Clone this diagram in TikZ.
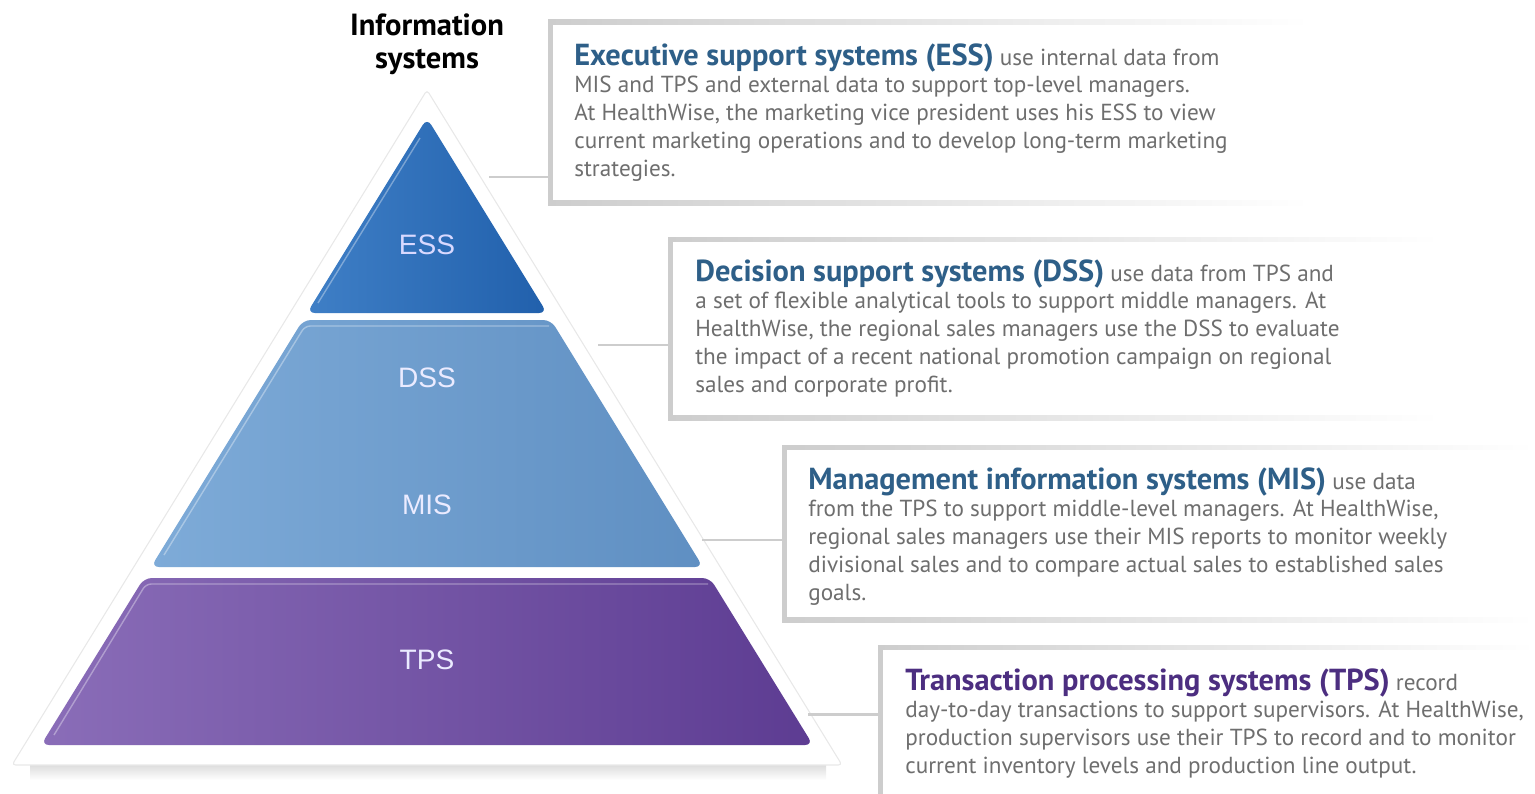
\documentclass[tikz,border=0pt]{standalone}
\usepackage{fontspec}
\usepackage{xcolor}
\usepackage{tikz}
\usetikzlibrary{positioning}
\newfontfamily\descfont{PT Sans}
\newfontfamily\labfont{Liberation Sans}
\definecolor{esslight}{HTML}{3F7FC6}
\definecolor{essdark}{HTML}{2160AC}
\definecolor{misslight}{HTML}{7EABD8}
\definecolor{missdark}{HTML}{5F8FC2}
\definecolor{tpslight}{HTML}{8A6DB8}
\definecolor{tpsdark}{HTML}{5D3C92}
\definecolor{headblue}{HTML}{2E5F88}
\definecolor{headpurple}{HTML}{4C2E80}
\definecolor{bodygray}{HTML}{6E6E6E}
\definecolor{framegray}{HTML}{CDCDCD}
\newcommand\headtext[2]{{\bfseries\fontsize{17.3}{18}\selectfont\color{#1}#2}}

\begin{document}
\begin{tikzpicture}[
  x=0.02cm, y=-0.02cm,
  layer/.style={rounded corners=4.5pt},
  plabel/.style={font=\labfont\fontsize{16}{18}\selectfont, text=white!92!blue},
  desc/.style={font=\descfont\fontsize{13.2}{15.8}\selectfont, text=bodygray, align=left, inner sep=0pt, anchor=north west},
  link/.style={draw=framegray, line width=1.7pt},
  shine/.style={draw=white, opacity=.35, line width=.8pt, rounded corners=3pt}
]
  \useasboundingbox (0,0) rectangle (1535,794);

  % pyramid
  \shade[top color=gray!30, bottom color=white] (30,763) rectangle (826,780);
  \filldraw[fill=white, draw=gray!18, line width=.6pt, rounded corners=2pt] (427,90) -- (842,765) -- (12,765) -- cycle;
  \shade[layer, left color=esslight, right color=essdark] (427,118) -- (547,313) -- (307,313) -- cycle;
  \shade[layer, left color=misslight, right color=missdark] (303,320) -- (551,320) -- (703,567) -- (151,567) -- cycle;
  \shade[layer, left color=tpslight, right color=tpsdark] (144,578) -- (710,578) -- (813,745) -- (41,745) -- cycle;
  \draw[shine] (318,303) -- (420,138);
  \draw[shine] (164,555) -- (305,326) -- (549,326);
  \draw[shine] (54,735) -- (146,584) -- (708,584);

  \node[plabel, text=blue!15!white] (ess) at (427,245) {ESS};
  \node[plabel] (dss) at (427,378) {DSS};
  \node[plabel] (mis) at (427,505) {MIS};
  \node[plabel] (tps) at (427,660) {TPS};

  \coordinate (apex) at (427,90);
  \node[font=\descfont\bfseries\fontsize{17.4}{18.8}\selectfont, align=center, above=5pt of apex] (title) {Information\\systems};

  % description frames
  \foreach \l/\t/\b/\r in {548/20/205/1310, 668/237/420/1440, 782/445/622/1535, 878/645/800/1535}{
    \shade[left color=framegray, right color=white] (\l,\t) rectangle (\r,\b);
    \fill[white] (\l+5,\t+5) rectangle (\r,\b-5);
    \fill[framegray] (\l,\t) rectangle (\l+4,\b);
  }
  \coordinate (esstl) at (548,20);
  \coordinate (dsstl) at (668,237);
  \coordinate (mistl) at (782,445);
  \coordinate (tpstl) at (878,645);

  % connectors
  \coordinate (essend) at (489,177);
  \coordinate (dssend) at (598,345);
  \coordinate (misend) at (702,540);
  \coordinate (tpsend) at (808,714);
  \draw[link] (essend) -- (essend -| esstl);
  \draw[link] (dssend) -- (dssend -| dsstl);
  \draw[link] (misend) -- (misend -| mistl);
  \draw[link] (tpsend) -- (tpsend -| tpstl);

  % texts
  \node[desc] (esstext) at (574,43) {\headtext{headblue}{Executive support systems (ESS)} use internal data from\\
    MIS and TPS and external data to support top-level managers.\\
    At HealthWise, the marketing vice president uses his ESS to view\\
    current marketing operations and to develop long-term marketing\\
    strategies.};
  \node[desc] (dsstext) at (695,259) {\headtext{headblue}{Decision support systems (DSS)} use data from TPS and\\
    a set of flexible analytical tools to support middle managers. At\\
    HealthWise, the regional sales managers use the DSS to evaluate\\
    the impact of a recent national promotion campaign on regional\\
    sales and corporate profit.};
  \node[desc] (mistext) at (808,467) {\headtext{headblue}{Management information systems (MIS)} use data\\
    from the TPS to support middle-level managers. At HealthWise,\\
    regional sales managers use their MIS reports to monitor weekly\\
    divisional sales and to compare actual sales to established sales\\
    goals.};
  \node[desc] (tpstext) at (905,668) {\headtext{headpurple}{Transaction processing systems (TPS)} record\\
    day-to-day transactions to support supervisors. At HealthWise,\\
    production supervisors use their TPS to record and to monitor\\
    current inventory levels and production line output.};
\end{tikzpicture}
\end{document}
